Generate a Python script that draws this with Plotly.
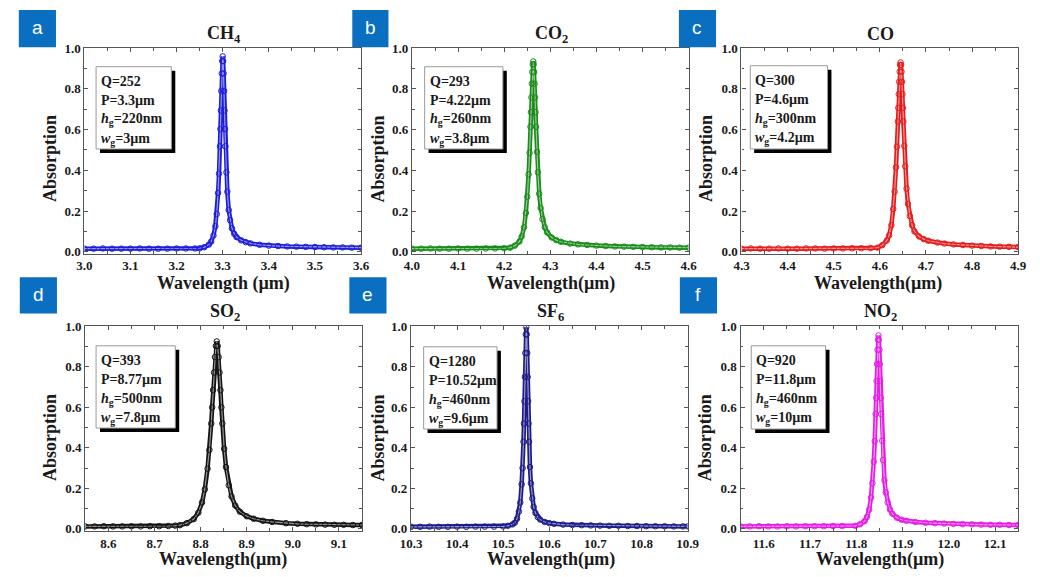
import plotly.graph_objects as go

# ------------------------------------------------------------------ data
ch4_wl = [3.00, 3.02, 3.04, 3.06, 3.08, 3.10, 3.12, 3.14, 3.16, 3.18, 3.20, 3.22, 3.24,
          3.25, 3.26, 3.27, 3.275, 3.28, 3.284, 3.287, 3.29, 3.292, 3.294,
          3.295, 3.296, 3.297, 3.298, 3.299, 3.30, 3.301, 3.302, 3.303, 3.304, 3.305, 3.306,
          3.308, 3.31, 3.313, 3.316, 3.32, 3.325, 3.33, 3.34, 3.35, 3.36, 3.38,
          3.40, 3.42, 3.44, 3.46, 3.48, 3.50, 3.52, 3.54, 3.56, 3.58, 3.60]
ch4_abs = [0.015, 0.015, 0.016, 0.015, 0.015, 0.015, 0.016, 0.015, 0.015, 0.015, 0.016, 0.016, 0.016,
           0.017, 0.022, 0.035, 0.05, 0.08, 0.125, 0.185, 0.289, 0.384, 0.518,
           0.603, 0.694, 0.79, 0.876, 0.937, 0.96, 0.937, 0.876, 0.79, 0.694, 0.603, 0.518,
           0.39, 0.295, 0.205, 0.155, 0.115, 0.088, 0.072, 0.056, 0.047, 0.041, 0.034,
           0.03, 0.028, 0.026, 0.025, 0.024, 0.023, 0.022, 0.021, 0.021, 0.02, 0.02]

co2_wl = [4.00, 4.02, 4.04, 4.06, 4.08, 4.10, 4.12, 4.14, 4.16, 4.18, 4.20,
          4.213, 4.223, 4.233, 4.238, 4.243, 4.247, 4.25, 4.253, 4.255, 4.257,
          4.258, 4.259, 4.26, 4.261, 4.262, 4.263, 4.264, 4.265, 4.266, 4.267, 4.268, 4.269,
          4.271, 4.273, 4.276, 4.279, 4.283, 4.288, 4.293, 4.303, 4.313, 4.323, 4.343,
          4.36, 4.38, 4.40, 4.42, 4.44, 4.46, 4.48, 4.50, 4.52, 4.54, 4.56, 4.58, 4.60]
co2_abs = [0.015, 0.015, 0.016, 0.015, 0.015, 0.016, 0.015, 0.015, 0.016, 0.016, 0.017,
           0.02, 0.03, 0.05, 0.075, 0.12, 0.19, 0.27, 0.38, 0.486, 0.614,
           0.686, 0.758, 0.826, 0.883, 0.921, 0.935, 0.921, 0.883, 0.826, 0.758, 0.686, 0.614,
           0.49, 0.39, 0.285, 0.215, 0.16, 0.12, 0.095, 0.07, 0.057, 0.049, 0.04,
           0.036, 0.033, 0.03, 0.028, 0.026, 0.025, 0.024, 0.023, 0.022, 0.021, 0.021, 0.02, 0.02]

co_wl = [4.30, 4.32, 4.34, 4.36, 4.38, 4.40, 4.42, 4.44, 4.46, 4.48, 4.50, 4.52, 4.54, 4.56, 4.58,
         4.595, 4.605, 4.615, 4.62, 4.625, 4.629, 4.632, 4.635, 4.637, 4.639,
         4.64, 4.641, 4.642, 4.643, 4.644, 4.645, 4.646, 4.647, 4.648, 4.649, 4.65, 4.651,
         4.653, 4.655, 4.658, 4.661, 4.665, 4.67, 4.675, 4.685, 4.695, 4.705, 4.725,
         4.74, 4.76, 4.78, 4.80, 4.82, 4.84, 4.86, 4.88, 4.90]
co_abs = [0.015, 0.016, 0.015, 0.015, 0.016, 0.015, 0.015, 0.016, 0.016, 0.015, 0.016, 0.016, 0.017, 0.017, 0.018,
          0.02, 0.032, 0.055, 0.08, 0.13, 0.21, 0.295, 0.415, 0.516, 0.64,
          0.707, 0.774, 0.835, 0.885, 0.918, 0.93, 0.918, 0.885, 0.835, 0.774, 0.707, 0.64,
          0.52, 0.42, 0.31, 0.235, 0.175, 0.13, 0.10, 0.075, 0.062, 0.054, 0.045,
          0.04, 0.036, 0.033, 0.03, 0.028, 0.026, 0.025, 0.024, 0.023]

so2_wl = [8.55, 8.57, 8.59, 8.61, 8.63, 8.65, 8.67, 8.69, 8.71, 8.73,
          8.745, 8.755, 8.77, 8.785, 8.795, 8.803, 8.809, 8.815, 8.819, 8.823,
          8.825, 8.827, 8.829, 8.831, 8.833, 8.835, 8.837, 8.839, 8.841, 8.843, 8.845, 8.847,
          8.851, 8.855, 8.861, 8.867, 8.875, 8.885, 8.90, 8.915, 8.935, 8.955, 8.985,
          9.01, 9.03, 9.05, 9.07, 9.09, 9.11, 9.13, 9.15]
so2_abs = [0.012, 0.012, 0.013, 0.012, 0.012, 0.013, 0.012, 0.013, 0.013, 0.014,
           0.016, 0.018, 0.028, 0.048, 0.08, 0.13, 0.195, 0.297, 0.39, 0.52,
           0.60, 0.685, 0.772, 0.848, 0.903, 0.925, 0.903, 0.848, 0.772, 0.685, 0.60, 0.52,
           0.395, 0.305, 0.215, 0.16, 0.115, 0.085, 0.062, 0.05, 0.04, 0.034, 0.028,
           0.025, 0.023, 0.022, 0.021, 0.02, 0.02, 0.019, 0.019]

sf6_wl = [10.30, 10.32, 10.34, 10.36, 10.38, 10.40, 10.42, 10.44, 10.46, 10.48,
          10.50, 10.51, 10.52, 10.525, 10.53, 10.534, 10.537, 10.54, 10.542, 10.544,
          10.545, 10.546, 10.547, 10.548, 10.549, 10.55, 10.551, 10.552, 10.553, 10.554, 10.555, 10.556,
          10.558, 10.56, 10.563, 10.566, 10.57, 10.575, 10.58, 10.59, 10.60, 10.61, 10.63,
          10.65, 10.67, 10.69, 10.71, 10.73, 10.75, 10.77, 10.79, 10.81, 10.83, 10.85, 10.87, 10.89, 10.90]
sf6_abs = [0.010, 0.010, 0.011, 0.010, 0.010, 0.011, 0.010, 0.011, 0.011, 0.011,
           0.012, 0.015, 0.022, 0.03, 0.05, 0.085, 0.13, 0.22, 0.30, 0.43,
           0.52, 0.63, 0.75, 0.868, 0.96, 0.995, 0.96, 0.868, 0.75, 0.63, 0.52, 0.43,
           0.305, 0.225, 0.15, 0.108, 0.078, 0.058, 0.046, 0.034, 0.028, 0.025, 0.021,
           0.019, 0.018, 0.017, 0.016, 0.015, 0.015, 0.014, 0.014, 0.013, 0.013, 0.013, 0.012, 0.012, 0.012]

no2_wl = [11.55, 11.57, 11.59, 11.61, 11.63, 11.65, 11.67, 11.69, 11.71, 11.73, 11.75, 11.77,
          11.798, 11.808, 11.818, 11.823, 11.828, 11.832, 11.835, 11.838, 11.84, 11.842,
          11.843, 11.844, 11.845, 11.846, 11.847, 11.848, 11.849, 11.85, 11.851, 11.852, 11.853, 11.854,
          11.856, 11.858, 11.861, 11.864, 11.868, 11.873, 11.878, 11.888, 11.898, 11.908, 11.928,
          11.95, 11.97, 11.99, 12.01, 12.03, 12.05, 12.07, 12.09, 12.11, 12.13, 12.15]
no2_abs = [0.012, 0.012, 0.013, 0.012, 0.012, 0.013, 0.012, 0.013, 0.013, 0.013, 0.014, 0.014,
           0.015, 0.022, 0.038, 0.058, 0.095, 0.155, 0.225, 0.332, 0.433, 0.567,
           0.647, 0.73, 0.813, 0.884, 0.934, 0.955, 0.934, 0.884, 0.813, 0.73, 0.647, 0.567,
           0.435, 0.34, 0.24, 0.18, 0.13, 0.095, 0.075, 0.055, 0.045, 0.04, 0.034,
           0.03, 0.028, 0.026, 0.024, 0.023, 0.022, 0.021, 0.02, 0.02, 0.019, 0.019]

gases = ["CH<sub>4</sub>", "CO<sub>2</sub>", "CO", "SO<sub>2</sub>", "SF<sub>6</sub>", "NO<sub>2</sub>"]
panel_letters = ["a", "b", "c", "d", "e", "f"]
x_ranges = [[3.0, 3.6], [4.0, 4.6], [4.3, 4.9], [8.55, 9.15], [10.3, 10.9], [11.55, 12.15]]
info_texts = [
    ["Q=252", "P=3.3µm", "<i>h</i><sub>g</sub>=220nm", "<i>w</i><sub>g</sub>=3µm"],
    ["Q=293", "P=4.22µm", "<i>h</i><sub>g</sub>=260nm", "<i>w</i><sub>g</sub>=3.8µm"],
    ["Q=300", "P=4.6µm", "<i>h</i><sub>g</sub>=300nm", "<i>w</i><sub>g</sub>=4.2µm"],
    ["Q=393", "P=8.77µm", "<i>h</i><sub>g</sub>=500nm", "<i>w</i><sub>g</sub>=7.8µm"],
    ["Q=1280", "P=10.52µm", "<i>h</i><sub>g</sub>=460nm", "<i>w</i><sub>g</sub>=9.6µm"],
    ["Q=920", "P=11.8µm", "<i>h</i><sub>g</sub>=460nm", "<i>w</i><sub>g</sub>=10µm"],
]
x_titles = ["Wavelength (µm)"] + ["Wavelength(µm)"] * 5
y_title = "Absorption"
wl_data = [ch4_wl, co2_wl, co_wl, so2_wl, sf6_wl, no2_wl]
abs_data = [ch4_abs, co2_abs, co_abs, so2_abs, sf6_abs, no2_abs]

# ------------------------------------------------------------------ styling / layout
W, H = 1040, 577
colors = ["#1c1cdc", "#1a8c1a", "#e41c1c", "#141414", "#1c1c88", "#e41ce4"]
SERIF = "Liberation Serif, Times New Roman, serif"
SANS = "Liberation Sans, Arial, sans-serif"
AXC = "#555555"
TXT = "#1a1a1a"
BLUE = "#0a6fc0"

plot_x = [(75, 358), (410, 693), (747, 1030), (76, 359), (409, 692), (746, 1030)]
plot_y = [(42, 252)] * 3 + [(326, 535)] * 3
info_boxes = [(87, 61, 164, 145), (423, 61, 503, 145), (756, 60, 835, 145),
              (87, 346, 168, 430), (422, 347, 497, 431), (757, 346, 833, 431)]
letter_boxes = [(8, 3, 46, 41), (349, 3, 386, 41), (683, 3, 721, 41),
                (9, 276, 47, 313), (346, 276, 384, 313), (684, 276, 722, 313)]
title_y = [28, 28, 28, 312, 312, 312]
ytitle_pos = [(40, 155), (375, 155), (710, 155), (40, 440), (375, 440), (710, 440)]
xtitle_pos = [(217, 282), (552, 282), (887, 282), (217, 564), (552, 564), (889, 564)]


def fx(px):
    return px / W


def fy(py):
    return 1 - py / H


def lighten(hexc, f):
    h = hexc.lstrip("#")
    r, g, b = int(h[0:2], 16), int(h[2:4], 16), int(h[4:6], 16)
    r, g, b = [int(c + (255 - c) * f) for c in (r, g, b)]
    return f"rgb({r},{g},{b})"


fig = go.Figure()
layout = dict(width=W, height=H, margin=dict(l=0, r=0, t=0, b=0),
              paper_bgcolor="white", plot_bgcolor="white", showlegend=False)
shapes = []
annotations = []

for i in range(6):
    n = "" if i == 0 else str(i + 1)
    xa, ya = "x" + n, "y" + n
    c = colors[i]
    # thick band (densely overlapping symbols in the original)
    fig.add_trace(go.Scatter(x=wl_data[i], y=abs_data[i], mode="lines", xaxis=xa, yaxis=ya,
                             line=dict(color=c, width=4.5), hoverinfo="skip"))
    # lighter centre (hollow-circle look)
    fig.add_trace(go.Scatter(x=wl_data[i], y=abs_data[i], mode="lines", xaxis=xa, yaxis=ya,
                             line=dict(color=lighten(c, 0.55), width=1.2), hoverinfo="skip"))
    # open circle markers
    fig.add_trace(go.Scatter(x=wl_data[i], y=abs_data[i], mode="markers", xaxis=xa, yaxis=ya,
                             marker=dict(symbol="circle-open", size=5.5, color=c,
                                         line=dict(width=1, color=c))))
    x0, x1 = plot_x[i]
    y0, y1 = plot_y[i]
    xr = x_ranges[i]
    common = dict(showline=True, linecolor=AXC, linewidth=1.2, mirror="ticks",
                  ticks="inside", ticklen=4, tickwidth=1.1, tickcolor=AXC,
                  showgrid=False, zeroline=False,
                  tickfont=dict(family=SERIF, size=13, color=TXT, weight="bold"))
    layout["xaxis" + n] = dict(domain=[fx(x0), fx(x1)], range=[xr[0] - 1e-4, xr[1] + 1e-4],
                               anchor=ya, tickmode="linear", tick0=0, dtick=0.1, tickformat=".1f",
                               minor=dict(dtick=0.05, tick0=0, ticks="inside", ticklen=2.5,
                                          tickcolor=AXC, showgrid=False),
                               **common)
    layout["yaxis" + n] = dict(domain=[fy(y1), fy(y0)], range=[-0.01, 1.0005],
                               anchor=xa, tickmode="linear", tick0=0, dtick=0.2, tickformat=".1f",
                               minor=dict(dtick=0.1, tick0=0, ticks="inside", ticklen=2.5,
                                          tickcolor=AXC, showgrid=False),
                               **common)

    # panel letter box
    lx0, ly0, lx1, ly1 = letter_boxes[i]
    shapes.append(dict(type="rect", xref="paper", yref="paper", x0=fx(lx0), x1=fx(lx1),
                       y0=fy(ly1), y1=fy(ly0), fillcolor=BLUE, line=dict(width=0), layer="above"))
    annotations.append(dict(text=panel_letters[i], xref="paper", yref="paper",
                            x=fx((lx0 + lx1) / 2), y=fy((ly0 + ly1) / 2 - 1),
                            xanchor="center", yanchor="middle", showarrow=False,
                            font=dict(family=SANS, size=19, color="white")))
    # gas title
    annotations.append(dict(text=gases[i], xref="paper", yref="paper",
                            x=fx((x0 + x1) / 2 + 1), y=fy(title_y[i]),
                            xanchor="center", yanchor="middle", showarrow=False,
                            font=dict(family=SERIF, size=18, color=TXT, weight="bold")))
    # axis titles
    tx, ty = xtitle_pos[i]
    annotations.append(dict(text=x_titles[i], xref="paper", yref="paper", x=fx(tx), y=fy(ty),
                            xanchor="center", yanchor="middle", showarrow=False,
                            font=dict(family=SERIF, size=18, color=TXT, weight="bold")))
    tx, ty = ytitle_pos[i]
    annotations.append(dict(text=y_title, xref="paper", yref="paper", x=fx(tx), y=fy(ty),
                            xanchor="center", yanchor="middle", showarrow=False, textangle=-90,
                            font=dict(family=SERIF, size=18, color=TXT, weight="bold")))
    # info box with drop shadow
    bx0, by0, bx1, by1 = info_boxes[i]
    shapes.append(dict(type="rect", xref="paper", yref="paper", x0=fx(bx0 + 4), x1=fx(bx1 + 4),
                       y0=fy(by1 + 4), y1=fy(by0 + 4), fillcolor="black", line=dict(width=0),
                       layer="above"))
    shapes.append(dict(type="rect", xref="paper", yref="paper", x0=fx(bx0), x1=fx(bx1),
                       y0=fy(by1), y1=fy(by0), fillcolor="white",
                       line=dict(color="#9a9a9a", width=1), layer="above"))
    for k, line in enumerate(info_texts[i]):
        annotations.append(dict(text=line, xref="paper", yref="paper",
                                x=fx(bx0 + 3), y=fy(by0 + 15 + 19.7 * k),
                                xanchor="left", yanchor="middle", showarrow=False,
                                font=dict(family=SERIF, size=14, color=TXT, weight="bold")))

layout["shapes"] = shapes
layout["annotations"] = annotations
fig.update_layout(**layout)
fig.write_html("out.html")
